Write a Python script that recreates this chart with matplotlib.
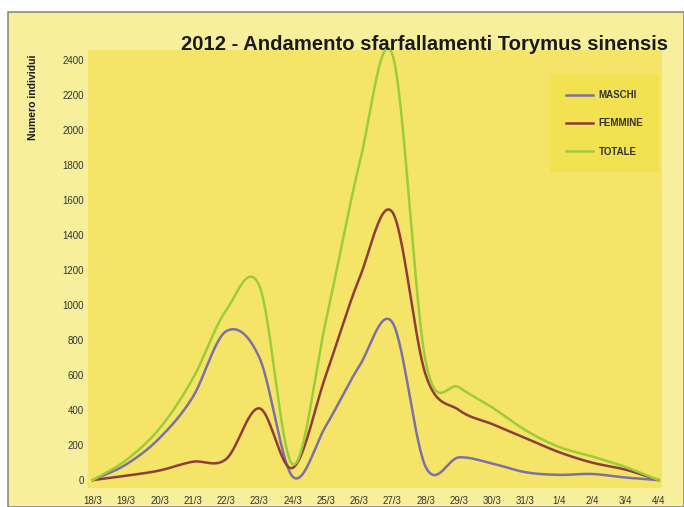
import numpy as np
import matplotlib
matplotlib.use("Agg")
import matplotlib.pyplot as plt
from matplotlib.patches import Rectangle

dates = ["18/3", "19/3", "20/3", "21/3", "22/3", "23/3", "24/3", "25/3", "26/3",
         "27/3", "28/3", "29/3", "30/3", "31/3", "1/4", "2/4", "3/4", "4/4"]
maschi = [0, 90, 240, 475, 850, 700, 20, 310, 650, 900, 75, 130, 95, 45, 30, 35, 15, 0]
femmine = [0, 25, 55, 105, 120, 410, 70, 600, 1150, 1530, 600, 400, 320, 240, 160, 100, 60, 0]
totale = [0, 115, 295, 580, 970, 1110, 90, 910, 1800, 2430, 675, 530, 415, 285, 190, 135, 75, 0]
yticks = list(range(0, 2401, 200))

title = "2012 - Andamento sfarfallamenti Torymus sinensis"
ylabel = "Numero individui"


def catmull_rom(y, n=30):
    y = np.asarray(y, dtype=float)
    x = np.arange(len(y), dtype=float)
    m = np.zeros_like(y)
    m[1:-1] = (y[2:] - y[:-2]) / 2.0
    m[0] = y[1] - y[0]
    m[-1] = y[-1] - y[-2]
    xs, ys = [], []
    t = np.linspace(0, 1, n, endpoint=False)
    h00 = 2 * t**3 - 3 * t**2 + 1
    h10 = t**3 - 2 * t**2 + t
    h01 = -2 * t**3 + 3 * t**2
    h11 = t**3 - t**2
    for i in range(len(y) - 1):
        xs.append(x[i] + t)
        ys.append(h00 * y[i] + h10 * m[i] + h01 * y[i + 1] + h11 * m[i + 1])
    xs.append([x[-1]])
    ys.append([y[-1]])
    return np.concatenate(xs), np.concatenate(ys)


W, H = 684, 507
plt.rcParams["font.family"] = ["Liberation Sans", "DejaVu Sans"]
fig = plt.figure(figsize=(W / 100, H / 100), dpi=100, facecolor="white")

panel = Rectangle((8 / W, 0), 1 - 8 / W, 1 - 12 / H, transform=fig.transFigure,
                  facecolor="#f7ef9c", edgecolor="#8a8a80", linewidth=1.2, zorder=-10)
fig.add_artist(panel)

L, R, T, B = 88, 662, 50, 488
ax = fig.add_axes([L / W, 1 - B / H, (R - L) / W, (B - T) / H], zorder=1)
ax.set_facecolor("#f4e568")
for s in ax.spines.values():
    s.set_visible(False)

colors = {"MASCHI": "#7c70a6", "FEMMINE": "#8e3d3a", "TOTALE": "#9ccc3c"}
for name, vals in [("MASCHI", maschi), ("FEMMINE", femmine), ("TOTALE", totale)]:
    xs, ys = catmull_rom(vals)
    ax.plot(xs, ys, color=colors[name], lw=1.8, label=name, clip_on=False, zorder=3)

ax.set_xlim(-0.15, 17.1)
ax.set_ylim(-45, 2457)
ax.set_xticks(range(len(dates)))
ax.set_xticklabels(dates)
ax.set_yticks(yticks)
ax.set_yticklabels([str(v) for v in yticks])
ax.tick_params(length=0, labelsize=7, colors="#333333", pad=3)
ax.tick_params(axis="x", pad=6)

leg = ax.legend(loc="upper right", bbox_to_anchor=(1.0, 0.951), frameon=True,
                fontsize=7, handlelength=2.8, labelspacing=1.9, borderpad=1.6,
                handletextpad=0.6, borderaxespad=0.3)
leg.get_frame().set_facecolor("#f2e150")
leg.get_frame().set_edgecolor("none")
leg.get_frame().set_alpha(1)
for t in leg.get_texts():
    t.set_fontweight("bold")
    t.set_color("#333333")

fig.text(668 / W, 1 - 45 / H, title, ha="right", va="center", fontsize=14.6,
         fontweight="bold", color="#1a1a1a")
fig.text(33 / W, 1 - 97 / H, ylabel, ha="center", va="center", rotation=90,
         fontsize=7.5, fontweight="bold", color="#1a1a1a")

fig.savefig("out.png", dpi=100, facecolor="white")
